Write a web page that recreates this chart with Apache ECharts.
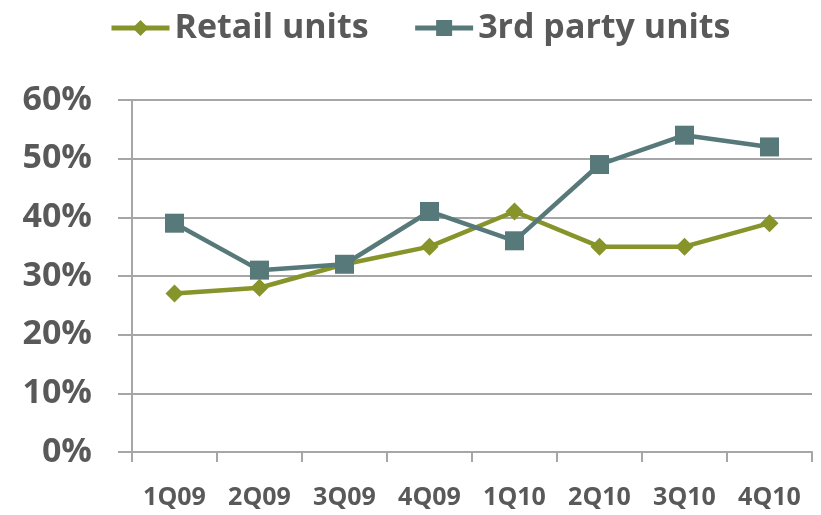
<!DOCTYPE html>
<html>
<head>
<meta charset="utf-8">
<script src="https://cdn.jsdelivr.net/npm/echarts@6/dist/echarts.min.js"></script>
<style>
  html, body { margin: 0; padding: 0; background: #fff; }
  #chart { width: 821px; height: 515px; }
</style>
</head>
<body>
<div id="chart"></div>
<script>
const quarters = ["1Q09", "2Q09", "3Q09", "4Q09", "1Q10", "2Q10", "3Q10", "4Q10"];
const retailUnits = [27, 28, 32, 35, 41, 35, 35, 39];
const thirdPartyUnits = [39, 31, 32, 41, 36, 49, 54, 52];

const textColor = "#595959";
const font = "'Open Sans', sans-serif";

const chart = echarts.init(document.getElementById("chart"));
chart.setOption({
  animation: false,
  textStyle: { fontFamily: font },
  legend: {
    top: 6,
    left: 104,
    itemGap: 44,
    itemWidth: 58,
    itemHeight: 20,
    lineStyle: { width: 5 },
    textStyle: { fontSize: 34, fontWeight: "bold", color: textColor, fontFamily: font },
    data: ["Retail units", "3rd party units"]
  },
  grid: { left: 132, right: 9, top: 100, bottom: 63 },
  xAxis: {
    type: "category",
    data: quarters,
    boundaryGap: true,
    axisLine: { lineStyle: { color: "#a6a6a6", width: 2 } },
    axisTick: { show: true, length: 10, inside: false, lineStyle: { color: "#a6a6a6", width: 2 } },
    axisLabel: { margin: 33, fontSize: 25, fontWeight: "bold", color: textColor, fontFamily: font }
  },
  yAxis: {
    type: "value",
    min: 0,
    max: 60,
    interval: 10,
    axisLine: { show: true, lineStyle: { color: "#a6a6a6", width: 2 } },
    axisTick: { show: true, length: 14, lineStyle: { color: "#a6a6a6", width: 2 } },
    splitLine: { show: true, lineStyle: { color: "#a6a6a6", width: 2 } },
    axisLabel: {
      margin: 40,
      fontSize: 34,
      fontWeight: "bold",
      color: textColor,
      fontFamily: font,
      formatter: v => v + "%"
    }
  },
  series: [
    {
      name: "Retail units",
      type: "line",
      data: retailUnits,
      symbol: "diamond",
      symbolSize: 18,
      lineStyle: { width: 4.5, color: "#86942a" },
      itemStyle: { color: "#86942a" }
    },
    {
      name: "3rd party units",
      type: "line",
      data: thirdPartyUnits,
      symbol: "rect",
      symbolSize: 19,
      lineStyle: { width: 4.5, color: "#58797a" },
      itemStyle: { color: "#58797a" }
    }
  ]
});
</script>
</body>
</html>
